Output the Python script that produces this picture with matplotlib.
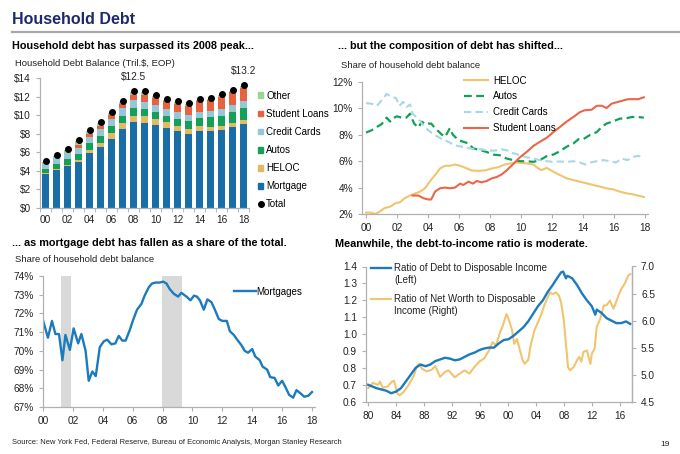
import matplotlib
matplotlib.use('Agg')
import matplotlib.pyplot as plt
import numpy as np
from matplotlib.lines import Line2D
from matplotlib.patches import Patch

plt.rcParams['font.family'] = ['Liberation Sans', 'DejaVu Sans']

# ---- Panel 1: stacked bars (tril. $) ----
bar_years = ['00', '01', '02', '03', '04', '05', '06', '07', '08', '09',
             '10', '11', '12', '13', '14', '15', '16', '17', '18']
mortgage = [3.70, 4.13, 4.49, 4.95, 5.92, 6.53, 7.47, 8.51, 9.26, 9.15,
            8.90, 8.58, 8.26, 8.00, 8.26, 8.26, 8.36, 8.72, 9.05]
heloc = [0.10, 0.12, 0.17, 0.24, 0.33, 0.52, 0.58, 0.61, 0.68, 0.71,
         0.70, 0.67, 0.61, 0.56, 0.54, 0.51, 0.49, 0.46, 0.44]
autos = [0.41, 0.52, 0.59, 0.63, 0.73, 0.74, 0.78, 0.81, 0.82, 0.77,
         0.72, 0.71, 0.75, 0.80, 0.89, 0.99, 1.08, 1.17, 1.23]
credit_cards = [0.53, 0.62, 0.65, 0.69, 0.71, 0.73, 0.76, 0.80, 0.84, 0.83,
                0.77, 0.72, 0.69, 0.68, 0.68, 0.71, 0.74, 0.78, 0.82]
student_loans = [0.00, 0.00, 0.00, 0.24, 0.27, 0.36, 0.43, 0.51, 0.60, 0.70,
                 0.77, 0.84, 0.91, 0.99, 1.12, 1.19, 1.26, 1.34, 1.41]
other = [0.26, 0.25, 0.35, 0.42, 0.30, 0.28, 0.25, 0.22, 0.26, 0.30,
         0.24, 0.15, 0.17, 0.14, 0.15, 0.12, 0.25, 0.17, 0.23]
total = [5.10, 5.74, 6.35, 7.29, 8.36, 9.26, 10.37, 11.56, 12.56, 12.56,
         12.20, 11.77, 11.49, 11.27, 11.74, 11.88, 12.28, 12.74, 13.28]
bar_ticks = [0, 2, 4, 6, 8, 10, 12, 14]

# ---- Panel 2: share of debt by type (%) ----
heloc_x = [2000.0, 2000.3, 2000.6, 2000.9, 2001.2, 2001.55, 2001.87, 2002.2, 2002.5,
           2002.83, 2003.15, 2003.5, 2003.8, 2004.1, 2004.45, 2004.77, 2005.1, 2005.4,
           2005.73, 2006.06, 2006.4, 2006.8, 2007.2, 2007.67, 2008.1, 2008.53, 2008.96,
           2009.3, 2009.7, 2010.35, 2010.78, 2011.1, 2011.32, 2011.64, 2012.07, 2012.5,
           2012.93, 2013.36, 2013.8, 2014.23, 2014.66, 2015.1, 2015.5, 2015.94, 2016.37,
           2016.8, 2017.2, 2017.55, 2017.9]
heloc_share = [2.1, 2.1, 2.0, 2.2, 2.45, 2.55, 2.8, 2.9, 3.2,
               3.4, 3.55, 3.7, 3.95, 4.45, 4.95, 5.45, 5.65, 5.65,
               5.75, 5.65, 5.5, 5.3, 5.27, 5.3, 5.45, 5.55, 5.75,
               5.83, 5.9, 5.83, 5.75, 5.45, 5.32, 5.5, 5.2, 4.95,
               4.7, 4.57, 4.44, 4.32, 4.19, 4.07, 3.94, 3.86, 3.69,
               3.56, 3.49, 3.39, 3.29]
autos_x = [2000.0, 2000.37, 2000.7, 2001.0, 2001.33, 2001.55, 2001.75, 2001.98, 2002.3,
           2002.6, 2002.83, 2003.1, 2003.37, 2003.6, 2003.8, 2004.0, 2004.2, 2004.45,
           2004.9, 2005.1, 2005.4, 2005.6, 2005.95, 2006.27, 2006.6, 2006.9, 2007.34,
           2007.77, 2008.2, 2008.63, 2009.06, 2009.5, 2009.92, 2010.35, 2010.78, 2011.2,
           2011.64, 2012.07, 2012.5, 2012.93, 2013.36, 2013.7, 2014.0, 2014.45, 2014.87,
           2015.19, 2015.5, 2015.94, 2016.37, 2016.7, 2017.13, 2017.5, 2017.9]
autos_share = [8.17, 8.35, 8.6, 8.8, 9.3, 9.0, 9.25, 9.4, 9.3,
               9.3, 9.6, 8.85, 8.55, 9.0, 8.8, 8.85, 8.85, 8.5,
               8.0, 7.85, 8.5, 8.0, 7.6, 7.47, 7.35, 6.97, 6.85,
               6.7, 6.5, 6.45, 6.2, 6.08, 6.0, 6.0, 5.95, 6.08,
               6.38, 6.5, 6.76, 7.1, 7.34, 7.67, 7.67, 8.0, 8.2,
               8.6, 8.85, 9.03, 9.23, 9.23, 9.35, 9.35, 9.3]
cc_x = [2000.0, 2000.37, 2000.7, 2001.0, 2001.33, 2001.65, 2001.93, 2002.15, 2002.4,
        2002.6, 2002.83, 2003.0, 2003.37, 2003.7, 2004.0, 2004.45, 2004.9, 2005.3,
        2005.73, 2006.16, 2006.6, 2007.0, 2007.45, 2007.9, 2008.3, 2008.74, 2009.17,
        2009.5, 2009.92, 2010.35, 2010.78, 2011.2, 2011.64, 2012.07, 2012.5, 2012.93,
        2013.36, 2013.8, 2014.1, 2014.45, 2014.87, 2015.3, 2015.75, 2016.1, 2016.5,
        2016.85, 2017.2, 2017.55, 2017.9]
cc_share = [10.4, 10.35, 10.2, 10.6, 11.1, 10.85, 10.8, 10.2, 10.5,
            10.1, 10.3, 9.6, 9.2, 8.7, 8.35, 7.97, 7.67, 7.47,
            7.2, 7.1, 7.0, 6.9, 6.9, 6.8, 6.8, 6.9, 6.8,
            6.6, 6.46, 6.3, 6.2, 6.08, 6.0, 5.95, 5.98, 5.95,
            6.0, 5.9, 5.75, 5.9, 6.0, 6.08, 6.0, 5.9, 6.2,
            6.08, 6.33, 6.4, 6.25]
sl_x = [2003.0, 2003.37, 2003.7, 2004.0, 2004.2, 2004.45, 2004.77, 2005.1, 2005.4,
        2005.73, 2006.06, 2006.27, 2006.6, 2006.9, 2007.13, 2007.45, 2007.77, 2008.1,
        2008.42, 2008.74, 2009.06, 2009.5, 2009.92, 2010.35, 2010.78, 2011.2, 2011.64,
        2012.07, 2012.5, 2012.93, 2013.36, 2013.8, 2014.1, 2014.54, 2014.87, 2015.19,
        2015.5, 2015.83, 2016.26, 2016.58, 2016.9, 2017.22, 2017.55, 2017.9]
sl_share = [3.4, 3.4, 3.2, 3.1, 3.1, 3.7, 3.95, 4.0, 3.95,
            4.0, 4.3, 4.2, 4.45, 4.3, 4.5, 4.4, 4.5, 4.7,
            4.8, 5.0, 5.3, 5.8, 6.3, 6.7, 7.15, 7.47, 7.77,
            8.2, 8.6, 9.0, 9.35, 9.73, 9.86, 9.9, 10.2, 10.2,
            10.03, 10.36, 10.5, 10.6, 10.7, 10.7, 10.7, 10.84]
share_ticks = [2, 4, 6, 8, 10, 12]
year_ticks = [2000, 2002, 2004, 2006, 2008, 2010, 2012, 2014, 2016, 2018]
year_labels = ['00', '02', '04', '06', '08', '10', '12', '14', '16', '18']

# ---- Panel 3: mortgage share (%) ----
mort_x = [2000.0, 2000.33, 2000.6, 2000.83, 2001.07, 2001.3, 2001.5, 2001.8, 2002.05,
          2002.35, 2002.57, 2002.85, 2003.06, 2003.3, 2003.53, 2003.8, 2004.06, 2004.29,
          2004.58, 2004.84, 2005.07, 2005.3, 2005.53, 2005.8, 2006.03, 2006.29, 2006.58,
          2006.8, 2007.08, 2007.3, 2007.54, 2007.81, 2008.04, 2008.26, 2008.48, 2008.75,
          2009.04, 2009.26, 2009.6, 2009.87, 2010.1, 2010.3, 2010.5, 2010.76, 2011.0,
          2011.27, 2011.5, 2011.76, 2012.0, 2012.3, 2012.5, 2012.77, 2012.99, 2013.28,
          2013.5, 2013.72, 2014.0, 2014.2, 2014.5, 2014.7, 2015.0, 2015.2, 2015.5,
          2015.74, 2016.0, 2016.2, 2016.47, 2016.74, 2016.96, 2017.2, 2017.48, 2017.75,
          2018.0]
mort_share = [71.64, 70.7, 71.6, 70.9, 70.9, 69.5, 70.85, 70.05, 71.2,
              70.4, 70.9, 70.0, 68.4, 68.9, 68.65, 70.2, 70.5, 70.6,
              70.35, 70.4, 70.8, 70.55, 70.55, 71.1, 71.65, 72.2, 72.5,
              72.95, 73.4, 73.6, 73.65, 73.65, 73.7, 73.6, 73.3, 73.05,
              72.9, 73.1, 72.9, 72.7, 72.95, 72.9, 72.7, 72.2, 72.75,
              72.6, 72.2, 71.7, 71.6, 71.6, 71.05, 70.85, 70.6, 70.3,
              70.0, 69.9, 70.1, 69.7, 69.5, 69.15, 69.0, 68.6, 68.55,
              68.15, 68.4, 68.1, 67.65, 67.5, 67.9, 67.75, 67.55, 67.6,
              67.8]
recessions = [(2001.23, 2001.85), (2007.99, 2009.33)]
mort_ticks = [67, 68, 69, 70, 71, 72, 73, 74]

# ---- Panel 4: debt / net worth to disposable income ----
debt_x = [1980.0, 1981.2, 1982.6, 1983.3, 1984.0, 1984.7, 1985.4, 1986.1, 1986.8,
          1987.5, 1988.2, 1988.9, 1989.6, 1990.3, 1991.0, 1991.7, 1992.4, 1993.1,
          1993.8, 1994.5, 1995.2, 1995.9, 1996.6, 1997.3, 1998.0, 1998.7, 1999.4,
          2000.1, 2000.8, 2001.5, 2002.2, 2002.9, 2003.6, 2004.3, 2005.0, 2005.7,
          2006.4, 2007.1, 2007.6, 2007.9, 2008.3, 2008.5, 2009.2, 2009.9, 2010.6,
          2011.3, 2012.0, 2012.5, 2012.7, 2013.4, 2014.1, 2014.8, 2015.5, 2016.2,
          2016.9, 2017.5]
debt_ratio = [0.70, 0.68, 0.665, 0.65, 0.66, 0.68, 0.72, 0.76, 0.80,
              0.82, 0.81, 0.82, 0.84, 0.85, 0.86, 0.855, 0.845, 0.85,
              0.865, 0.88, 0.89, 0.905, 0.915, 0.92, 0.92, 0.945, 0.965,
              0.97, 0.99, 1.015, 1.04, 1.075, 1.12, 1.165, 1.20, 1.25,
              1.29, 1.335, 1.365, 1.37, 1.33, 1.345, 1.33, 1.29, 1.24,
              1.20, 1.165, 1.115, 1.145, 1.125, 1.095, 1.08, 1.065, 1.065,
              1.075, 1.06]
nw_x = [1980.0, 1980.7, 1981.4, 1981.7, 1982.1, 1982.8, 1983.4, 1983.7, 1984.2,
        1984.5, 1985.1, 1985.8, 1986.5, 1987.0, 1987.3, 1987.7, 1988.4, 1989.1,
        1989.6, 1990.3, 1991.0, 1991.5, 1992.4, 1993.1, 1993.8, 1994.5, 1995.2,
        1995.9, 1996.6, 1997.3, 1997.8, 1998.3, 1998.9, 1999.2, 1999.5, 1999.8,
        2000.1, 2000.6, 2000.9, 2001.3, 2001.6, 2002.1, 2002.4, 2002.9, 2003.3,
        2003.8, 2004.3, 2004.7, 2005.2, 2005.7, 2006.0, 2006.4, 2006.9, 2007.3,
        2007.6, 2008.0, 2008.3, 2008.6, 2008.9, 2009.4, 2009.9, 2010.2, 2010.5,
        2010.8, 2011.3, 2011.8, 2012.0, 2012.4, 2012.7, 2013.2, 2013.7, 2014.1,
        2014.6, 2015.1, 2015.3, 2015.8, 2016.2, 2016.7, 2017.2, 2017.5]
nw_ratio = [4.75, 4.85, 4.81, 4.87, 4.76, 4.78, 4.87, 4.89, 4.65,
            4.62, 4.68, 4.81, 4.97, 5.16, 5.20, 5.11, 5.06, 5.09,
            5.16, 4.96, 5.05, 5.08, 4.95, 5.02, 5.08, 5.02, 5.14,
            5.24, 5.30, 5.45, 5.60, 5.54, 5.79, 5.88, 6.00, 6.12,
            6.03, 5.82, 5.57, 5.66, 5.51, 5.27, 5.20, 5.27, 5.57,
            5.82, 5.97, 6.09, 6.28, 6.43, 6.52, 6.49, 6.52, 6.46,
            6.34, 6.00, 5.57, 5.14, 5.08, 5.14, 5.27, 5.33, 5.24,
            5.42, 5.45, 5.20, 5.39, 5.48, 5.88, 6.03, 6.28, 6.28,
            6.37, 6.22, 6.28, 6.46, 6.58, 6.68, 6.83, 6.86]
ratio_x_ticks = [1980, 1984, 1988, 1992, 1996, 2000, 2004, 2008, 2012, 2016]
ratio_x_labels = ['80', '84', '88', '92', '96', '00', '04', '08', '12', '16']

# colours
c_mort = '#1a6ea8'
c_heloc = '#e4b964'
c_autos = '#13a159'
c_cc = '#97c7d7'
c_sl = '#e8623f'
c_other = '#99d596'
c_line_blue = '#1b7bbd'
c_gold = '#f1c46f'
c_axis = '#b0b0b0'
c_text = '#222222'

W, H = 680, 454
fig = plt.figure(figsize=(W / 100, H / 100), dpi=100)


def px_axes(l, t, r, b):
    return fig.add_axes([l / W, 1 - b / H, (r - l) / W, (b - t) / H])


def ftext(x, y, s, **kw):
    fig.text(x / W, 1 - y / H, s, va='center', **kw)


def style(ax, right=False):
    for side in ['top', 'right']:
        ax.spines[side].set_visible(False)
    if right:
        ax.spines['right'].set_visible(True)
    for sp in ax.spines.values():
        sp.set_color(c_axis)
        sp.set_linewidth(0.9)
    ax.tick_params(colors=c_axis, labelcolor=c_text, labelsize=7.3, length=3, width=0.8)
    ax.set_facecolor('none')


# headers
ftext(12, 20, 'Household Debt', fontsize=11.5, fontweight='bold', color='#1c2a6b')
fig.add_artist(Line2D([12 / W, 1.0], [1 - 32 / H] * 2, color='#a8a8a8', lw=1.6))
ftext(12, 46, 'Household debt has surpassed its 2008 peak...', fontsize=7.8, fontweight='bold', color='black')
ftext(15, 63, 'Household Debt Balance (Tril.$, EOP)', fontsize=6.8, color=c_text)
ftext(338, 46, '... but the composition of debt has shifted...', fontsize=7.8, fontweight='bold', color='black')
ftext(341, 65, 'Share of household debt balance', fontsize=6.8, color=c_text)
ftext(12, 243, '... as mortgage debt has fallen as a share of the total.', fontsize=7.8, fontweight='bold', color='black')
ftext(15, 259, 'Share of household debt balance', fontsize=6.8, color=c_text)
ftext(335, 243, 'Meanwhile, the debt-to-income ratio is moderate.', fontsize=7.8, fontweight='bold', color='black')
ftext(12, 443, 'Source: New York Fed, Federal Reserve, Bureau of Economic Analysis, Morgan Stanley Research',
      fontsize=5.4, color=c_text)
ftext(660, 445, '19', fontsize=6, color=c_text)

# ---- Panel 1 ----
ax1 = px_axes(40, 78, 249, 208)
style(ax1)
x = np.arange(len(bar_years))
bottom = np.zeros(len(x))
stack = [(mortgage, c_mort, 'Mortgage'), (heloc, c_heloc, 'HELOC'), (autos, c_autos, 'Autos'),
         (credit_cards, c_cc, 'Credit Cards'), (student_loans, c_sl, 'Student Loans'),
         (other, c_other, 'Other')]
handles = []
for vals, col, lab in stack:
    ax1.bar(x, vals, bottom=bottom, width=0.64, color=col, linewidth=0)
    bottom += np.array(vals)
    handles.append(Patch(color=col, label=lab))
ax1.scatter(x, total, s=16, color='black', zorder=3, clip_on=False)
ax1.annotate('$12.5', (x[8], total[8]), xytext=(0, 10), textcoords='offset points',
             ha='center', va='center', fontsize=7.3, color=c_text, annotation_clip=False)
ax1.annotate('$13.2', (x[18], total[18]), xytext=(0, 10), textcoords='offset points',
             ha='center', va='center', fontsize=7.3, color=c_text, annotation_clip=False)
ax1.set_xlim(-0.5, len(x) - 0.5)
ax1.set_ylim(0, 14)
ax1.set_yticks(bar_ticks)
ax1.set_yticklabels(['$%d' % v for v in bar_ticks])
ax1.set_xticks(x[::2])
ax1.set_xticklabels(bar_years[::2])
ax1.set_xticks(np.arange(-0.5, len(x), 1.0), minor=True)
ax1.tick_params(axis='x', which='major', length=0, pad=5)
ax1.tick_params(axis='x', which='minor', length=3, color=c_axis)
handles = handles[::-1] + [Line2D([], [], marker='o', ls='none', color='black', markersize=4, label='Total')]
fig.legend(handles=handles, loc='upper left', bbox_to_anchor=(253 / W, 1 - 86 / H), frameon=False,
           fontsize=7, handlelength=0.55, handleheight=0.55, handletextpad=0.3, labelspacing=0.83,
           borderpad=0)

# ---- Panel 2 ----
ax2 = px_axes(362, 82, 648, 214)
style(ax2)
ax2.plot(heloc_x, heloc_share, color=c_gold, lw=1.5, label='HELOC')
ax2.plot(autos_x, autos_share, color=c_autos, lw=1.6, ls=(0, (3.5, 2)), label='Autos')
ax2.plot(cc_x, cc_share, color='#a7d8e3', lw=1.5, ls=(0, (3.5, 2)), label='Credit Cards')
ax2.plot(sl_x, sl_share, color='#ea6648', lw=1.5, label='Student Loans')
ax2.set_xlim(1999.74, 2018.17)
ax2.set_ylim(2, 12)
ax2.set_yticks(share_ticks)
ax2.set_yticklabels(['%d%%' % v for v in share_ticks])
ax2.set_xticks(year_ticks)
ax2.set_xticklabels(year_labels)
ax2.legend(loc='upper left', bbox_to_anchor=((459 - 362) / 286, 1.085), frameon=False, fontsize=7,
           handlelength=2.5, handletextpad=0.5, labelspacing=0.6, borderpad=0)

# ---- Panel 3 ----
ax3 = px_axes(43, 276, 315, 407)
style(ax3)
for a, b in recessions:
    ax3.axvspan(a, b, color='#d9d9d9', lw=0, zorder=0)
ax3.plot(mort_x, mort_share, color=c_line_blue, lw=1.7, label='Mortgages')
ax3.set_xlim(2000, 2018.2)
ax3.set_ylim(67, 74)
ax3.set_yticks(mort_ticks)
ax3.set_yticklabels(['%d%%' % v for v in mort_ticks])
ax3.set_xticks(year_ticks)
ax3.set_xticklabels(year_labels)
ax3.legend(loc='upper left', bbox_to_anchor=((229 - 43) / 272, 0.955), frameon=False, fontsize=7,
           handlelength=2.3, handletextpad=0.0, borderpad=0)

# ---- Panel 4 ----
ax4 = px_axes(366, 266.5, 632, 401.7)
style(ax4, right=True)
ax4.plot(debt_x, debt_ratio, color=c_line_blue, lw=1.7)
ax4.set_xlim(1979.7, 2017.75)
ax4.set_ylim(0.6, 1.4)
ax4.set_yticks(np.arange(0.6, 1.41, 0.1))
ax4.yaxis.set_major_formatter(plt.FormatStrFormatter('%.1f'))
ax4.set_xticks(ratio_x_ticks)
ax4.set_xticklabels(ratio_x_labels)
ax4r = ax4.twinx()
style(ax4r, right=True)
ax4r.spines['left'].set_visible(False)
ax4r.spines['bottom'].set_visible(False)
ax4r.plot(nw_x, nw_ratio, color=c_gold, lw=1.5)
ax4r.set_ylim(4.5, 7.0)
ax4r.set_yticks(np.arange(4.5, 7.01, 0.5))
ax4r.yaxis.set_major_formatter(plt.FormatStrFormatter('%.1f'))
ax4.set_zorder(ax4r.get_zorder() + 1)
ax4.patch.set_visible(False)
fig.add_artist(Line2D([371 / W, 391 / W], [1 - 268 / H] * 2, color=c_line_blue, lw=1.7))
ftext(394, 268, 'Ratio of Debt to Disposable Income', fontsize=7, color=c_text)
ftext(394, 280, '(Left)', fontsize=7, color=c_text)
fig.add_artist(Line2D([371 / W, 391 / W], [1 - 299 / H] * 2, color=c_gold, lw=1.5))
ftext(394, 299, 'Ratio of Net Worth to Disposable', fontsize=7, color=c_text)
ftext(394, 311, 'Income (Right)', fontsize=7, color=c_text)

fig.savefig('out.png', dpi=100)
